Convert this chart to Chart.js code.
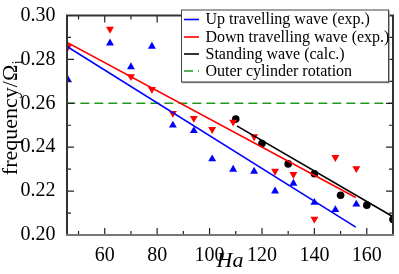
<!DOCTYPE html>
<html>
<head>
<meta charset="utf-8">
<script src="https://cdn.jsdelivr.net/npm/chart.js@4.4.1/dist/chart.umd.min.js"></script>
<style>
html,body{margin:0;padding:0;background:#fff}
canvas{display:block}
</style>
</head>
<body>
<canvas id="chart" width="399" height="274"></canvas>
<script>
// measured points
const upHa=[46,62,70,78,86,94,101,109,117,125,132,140,148,156];
const upFreq=[0.2706,0.2874,0.2766,0.2859,0.2500,0.2475,0.2346,0.2299,0.2290,0.2200,0.2235,0.2148,0.2115,0.2140];
const downHa=[46,62,70,78,86,94,101,109,117,125,132,140,148,156];
const downFreq=[0.2858,0.2938,0.2722,0.2664,0.2555,0.2532,0.2481,0.2515,0.2448,0.2291,0.2276,0.2073,0.2354,0.2303];
const standHa=[110,120,130,140,150,160,170];
const standFreq=[0.2528,0.2417,0.2324,0.2279,0.2181,0.2136,0.2071];

// fit lines
const upFitHa=[45,155.8], upFitFreq=[0.2863,0.2036];
const downFitHa=[45,155.8], downFitFreq=[0.2881,0.2171];
const standFitHa=[110.4,170], standFitFreq=[0.2497,0.2083];
const outerHa=[40,175], outerFreq=[0.26,0.26];

const xTicks=[60,80,100,120,140,160];
const xMinor=[50,70,90,110,130,150,170];
const yTicks=[0.20,0.22,0.24,0.26,0.28,0.30];
const yMinor=[0.21,0.23,0.25,0.27,0.29];

const SERIF='"Liberation Serif","Times New Roman",serif';
const pts=(xs,ys)=>xs.map((x,i)=>({x:x,y:ys[i]}));

function fitLine(label,xs,ys,color,dash){
  return {label:label,data:pts(xs,ys),showLine:true,borderColor:color,backgroundColor:color,
    borderWidth:1.6,borderDash:dash||[],pointRadius:0,clip:0,inLegend:true};
}
function marks(xs,ys,color,style,rot,r){
  return {data:pts(xs,ys),showLine:false,pointStyle:style,pointRotation:rot,pointRadius:r,
    backgroundColor:color,borderColor:color,borderWidth:0,clip:0};
}

// frame, inward ticks, legend and y label
const frame={
  id:'frame',
  afterDatasetsDraw(chart){
    const c=chart.ctx, a=chart.chartArea, sx=chart.scales.x, sy=chart.scales.y;
    c.save();
    c.strokeStyle='#222'; c.lineWidth=1.2;
    const tick=(vals,len)=>{
      vals.forEach(v=>{
        const px=sx.getPixelForValue(v);
        c.beginPath(); c.moveTo(px,a.bottom); c.lineTo(px,a.bottom-len);
        c.moveTo(px,a.top); c.lineTo(px,a.top+len); c.stroke();
      });
    };
    const tickY=(vals,len)=>{
      vals.forEach(v=>{
        const py=sy.getPixelForValue(v);
        c.beginPath(); c.moveTo(a.left,py); c.lineTo(a.left+len,py);
        c.moveTo(a.right,py); c.lineTo(a.right-len,py); c.stroke();
      });
    };
    tick(xTicks,7); tick(xMinor,4); tickY(yTicks,7); tickY(yMinor,4);
    c.lineWidth=2;
    c.strokeStyle='#333';
    c.beginPath(); c.moveTo(a.left,a.bottom); c.lineTo(a.left,a.top); c.lineTo(a.right,a.top); c.lineTo(a.right,a.bottom); c.stroke();
    c.strokeStyle='#777';
    c.beginPath(); c.moveTo(a.left-1,a.bottom); c.lineTo(a.right+1,a.bottom); c.stroke();

    // legend
    const bx=181, by=9.5, bw=207, bh=72;
    c.fillStyle='#fff'; c.fillRect(bx,by,bw,bh);
    c.strokeStyle='#999'; c.lineWidth=1.5;
    c.beginPath(); c.moveTo(bx+bw+1,by+1); c.lineTo(bx+bw+1,by+bh+1); c.lineTo(bx+1,by+bh+1); c.stroke();
    c.strokeStyle='#444'; c.lineWidth=1;
    c.strokeRect(bx+0.5,by+0.5,bw,bh);
    const rows=[19.5,37,54,71];
    c.font='16px '+SERIF; c.textBaseline='middle'; c.fillStyle='#000';
    chart.data.datasets.filter(d=>d.inLegend).forEach((d,i)=>{
      c.strokeStyle=d.borderColor; c.lineWidth=1.6; c.setLineDash(d.borderDash);
      c.beginPath(); c.moveTo(184,rows[i]); c.lineTo(199,rows[i]); c.stroke();
      c.setLineDash([]);
      c.fillText(d.label,205.5,rows[i]+0.5);
    });

    // y axis title with subscript
    c.save();
    c.translate(17,118);
    c.rotate(-Math.PI/2);
    c.font='22px '+SERIF;
    const main='frequency/\u03a9';
    const w=c.measureText(main).width;
    c.font='14px '+SERIF;
    const ws=c.measureText('i').width;
    const x0=-(w+ws)/2;
    c.textBaseline='alphabetic'; c.textAlign='left';
    c.font='22px '+SERIF; c.fillText(main,x0,0);
    c.font='14px '+SERIF; c.fillText('i',x0+w+0.5,5);
    c.restore();
    c.restore();
  }
};

new Chart(document.getElementById('chart'),{
  type:'scatter',
  data:{datasets:[
    fitLine('Up travelling wave (exp.)',upFitHa,upFitFreq,'#0000ff'),
    fitLine('Down travelling wave (exp.)',downFitHa,downFitFreq,'#ff0000'),
    fitLine('Standing wave (calc.)',standFitHa,standFitFreq,'#000000'),
    fitLine('Outer cylinder rotation',outerHa,outerFreq,'#1f9a1f',[9,5]),
    marks(upHa,upFreq,'#0000ff','triangle',0,4.6),
    marks(downHa,downFreq,'#ff0000','triangle',180,4.6),
    marks(standHa,standFreq,'#000000','circle',0,3.8)
  ]},
  options:{
    responsive:false,
    animation:false,
    layout:{padding:{top:6.5,right:6,left:0,bottom:0}},
    plugins:{legend:{display:false},tooltip:{enabled:false}},
    scales:{
      x:{
        type:'linear',min:45.6,max:170,
        afterBuildTicks:s=>{s.ticks=xTicks.map(v=>({value:v}));},
        afterFit:s=>{s.height=39;},
        grid:{display:false},border:{display:false},
        ticks:{font:{family:SERIF,size:20},color:'#000',padding:1,maxRotation:0},
        title:{display:true,text:'Ha',color:'#000',padding:{top:-3,bottom:0},
          font:{family:SERIF,size:22,style:'italic'}}
      },
      y:{
        type:'linear',min:0.20,max:0.30,
        afterBuildTicks:s=>{s.ticks=yTicks.map(v=>({value:v}));},
        afterFit:s=>{s.width=67;},
        grid:{display:false},border:{display:false},
        ticks:{font:{family:SERIF,size:20},color:'#000',padding:3.5,
          callback:v=>v.toFixed(2)}
      }
    }
  },
  plugins:[frame]
});
</script>
</body>
</html>
